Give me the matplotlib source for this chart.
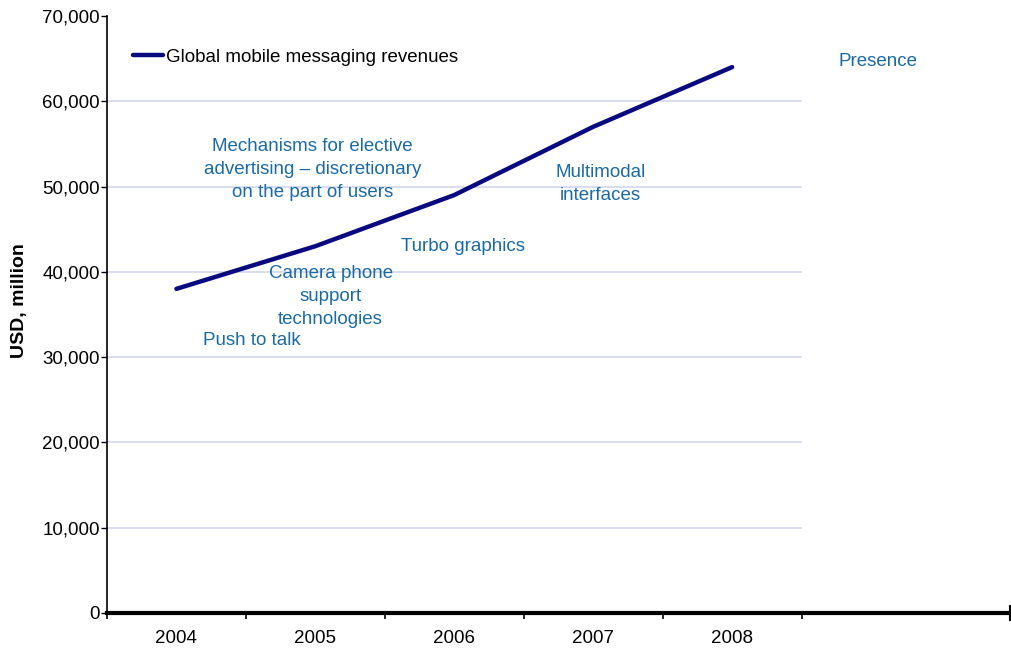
import numpy as np
import matplotlib.pyplot as plt
from matplotlib.ticker import FuncFormatter

plt.rcParams['font.family'] = ['Liberation Sans', 'DejaVu Sans']

years = ['2004', '2005', '2006', '2007', '2008']
revenues = [38000, 43000, 49000, 57000, 64000]

# technology labels placed along the chart (x in year index, y in USD million)
notes = ['Mechanisms for elective\nadvertising \u2013 discretionary\non the part of users',
         'Camera phone\nsupport\ntechnologies',
         'Push to talk',
         'Turbo graphics',
         'Multimodal\ninterfaces',
         'Presence']
note_x = [0.98, 1.11, 0.54, 2.06, 3.05, 5.05]
note_y = [52000, 37100, 32000, 43000, 50300, 64600]

y_ticks = np.arange(0, 70001, 10000)
fs = 13.5

fig = plt.figure(figsize=(10.11, 6.5), dpi=100)
ax = fig.add_axes([0.1058, 0.057, 0.8932, 0.9185])

x = np.arange(len(years))
# light grid only under the data area, none at the top
ax.hlines(y_ticks[1:-1], -0.5, 4.5, color='#d3d6ec', linewidth=1.2, zorder=1)
ax.plot(x, revenues, color='#0a0a80', linewidth=3.2, solid_capstyle='round',
        label='Global mobile messaging revenues', zorder=3)

for txt, nx, ny in zip(notes, note_x, note_y):
    ax.text(nx, ny, txt, color='#1a6aa6', fontsize=fs, ha='center', va='center',
            linespacing=1.45)

ax.set_xlim(-0.5, 6.0)
ax.set_ylim(0, 70000)
ax.set_xticks(x)
ax.set_xticklabels(years, fontsize=fs)
ax.set_xticks(np.arange(-0.5, 4.6, 1.0), minor=True)
ax.tick_params(axis='x', which='major', length=0, pad=12)
ax.tick_params(axis='x', which='minor', length=4, width=1.2, direction='out')
# end mark of the category axis
ax.plot([6.0], [0], marker='|', markersize=12, markeredgewidth=1.5,
        color='black', clip_on=False, zorder=5)

ax.set_yticks(y_ticks)
ax.yaxis.set_major_formatter(FuncFormatter(lambda v, p: f'{int(v):,}'))
ax.tick_params(axis='y', length=4, width=1, labelsize=fs, pad=1)

for side in ['top', 'right']:
    ax.spines[side].set_visible(False)
ax.spines['left'].set_linewidth(1.2)
ax.spines['bottom'].set_linewidth(3)

ax.set_ylabel('USD, million', fontsize=14, fontweight='bold')
ax.yaxis.set_label_coords(-0.087, 0.524)

ax.legend(loc='upper left', bbox_to_anchor=(0.01, 0.973), frameon=False,
          fontsize=fs, handlelength=1.6, handletextpad=0.15)

plt.savefig('out.png', dpi=100)
